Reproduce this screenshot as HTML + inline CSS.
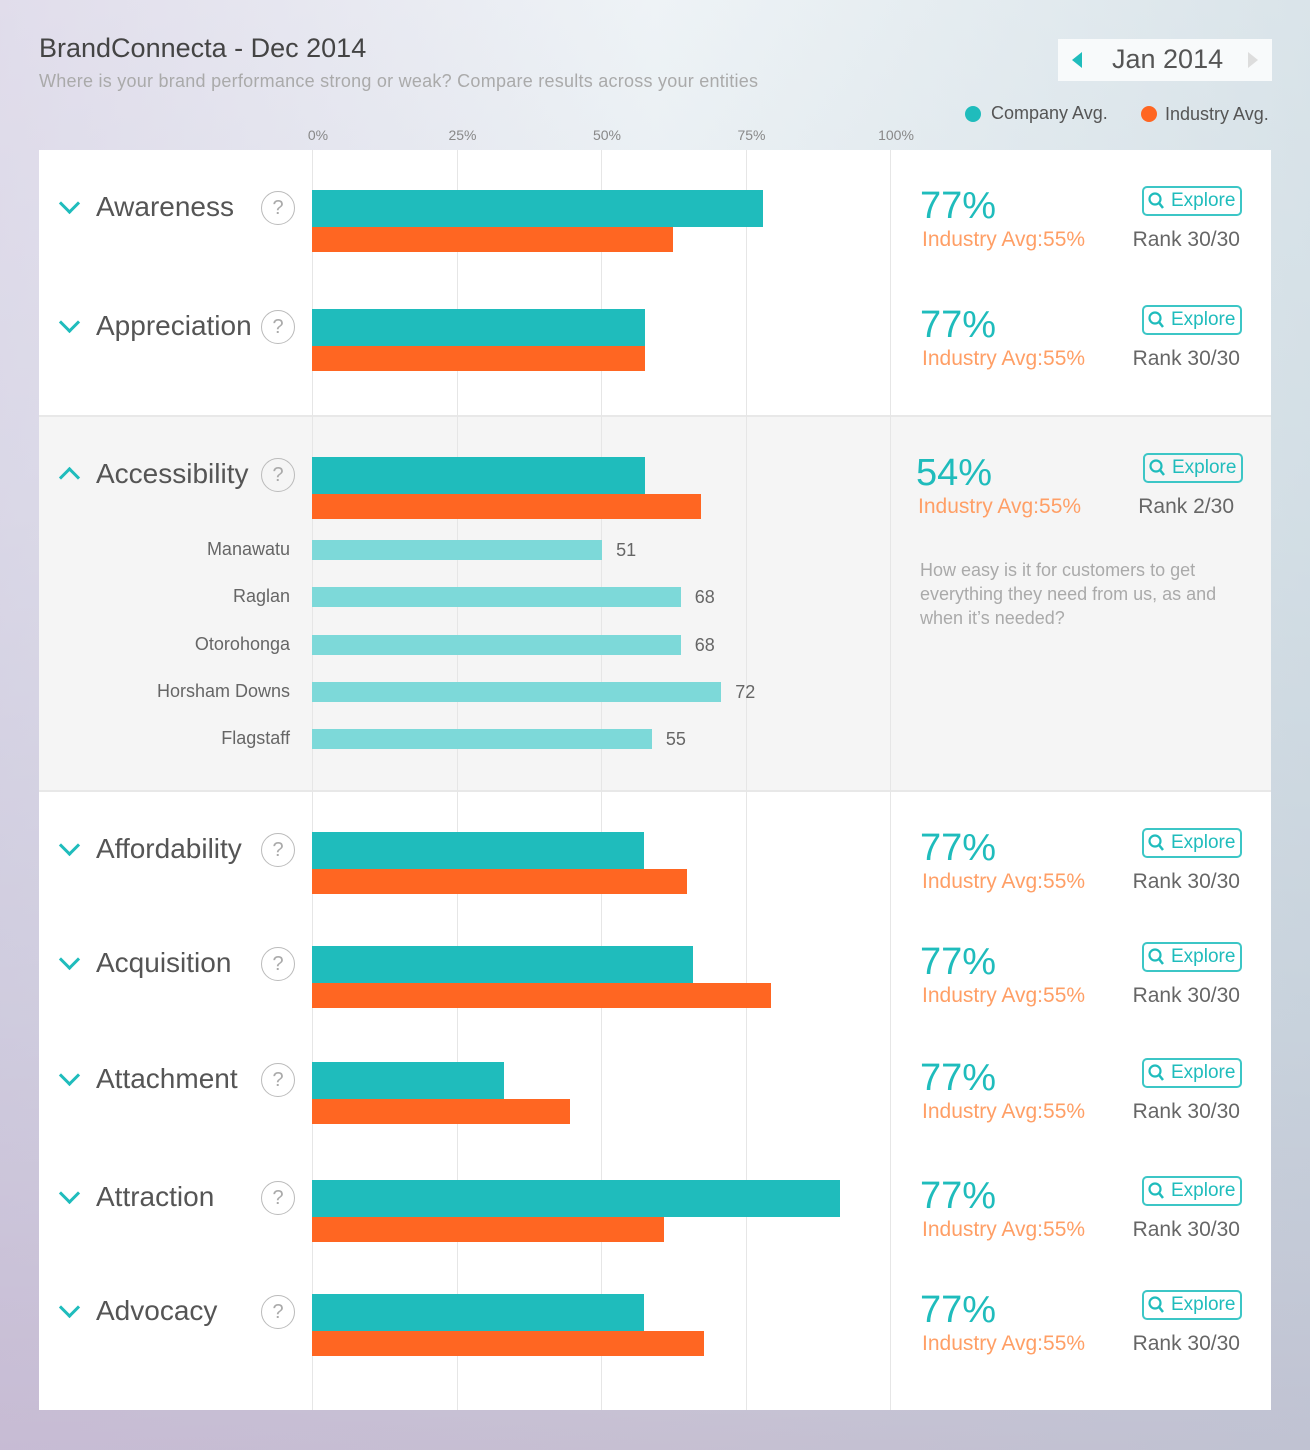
<!DOCTYPE html>
<html><head><meta charset="utf-8">
<style>
body{margin:0;width:1310px;height:1450px;overflow:hidden;font-family:"Liberation Sans",sans-serif;
background:linear-gradient(180deg,#eef3f6 0%,#e3eaef 35%,#d3d8e2 70%,#c6bfd2 100%);position:relative}
.bgr{position:absolute;inset:0;background:linear-gradient(90deg,rgba(200,180,215,.35),rgba(0,0,0,0) 50%,rgba(180,200,210,.35))}
.a{position:absolute;white-space:nowrap}
#card{position:absolute;left:39px;top:150px;width:1232px;height:1260px;background:#fff}
#gray{position:absolute;left:39px;top:415px;width:1232px;height:377px;background:#f5f5f5;border-top:2px solid #e8e8e8;border-bottom:2px solid #e8e8e8;box-sizing:border-box}
.grid{position:absolute;top:150px;height:1260px;width:1px;background:#e6e6e6}
.lbl{font-size:28px;color:#555}
.chev{position:absolute;width:12px;height:12px;border-right:3px solid #1fbcbc;border-bottom:3px solid #1fbcbc;transform:rotate(45deg)}
.chev.up{transform:rotate(-135deg)}
.q{position:absolute;width:32px;height:32px;border:1.5px solid #bbb;border-radius:50%;color:#aaa;font-size:20px;text-align:center;line-height:32px}
.bar{position:absolute}
.pct{font-size:38px;color:#1fbcbc}
.ind{font-size:21px;color:#ff9f66}
.rank{font-size:21px;color:#666}
.exp{position:absolute;width:96px;height:26px;border:2px solid #3cc6c6;border-radius:5px;color:#1fbcbc;font-size:19px;line-height:26px;box-sizing:content-box}
</style></head><body>
<div class="bgr"></div>
<div class="a" style="left:39px;top:33px;font-size:27px;color:#444">BrandConnecta - Dec 2014</div>
<div class="a" style="left:39px;top:71px;font-size:18px;color:#aaa;letter-spacing:0.25px">Where is your brand performance strong or weak? Compare results across your entities</div>
<div class="a" style="left:1058px;top:39px;width:214px;height:42px;background:#f8fafb">
 <div class="a" style="left:14px;top:13px;width:0;height:0;border-top:8px solid transparent;border-bottom:8px solid transparent;border-right:10px solid #1fbcbc"></div>
 <div class="a" style="left:54px;top:5px;font-size:27px;color:#555">Jan 2014</div>
 <div class="a" style="left:190px;top:13px;width:0;height:0;border-top:8px solid transparent;border-bottom:8px solid transparent;border-left:10px solid #ddd"></div>
</div>
<div class="a" style="left:965px;top:106px;width:16px;height:16px;border-radius:50%;background:#1fbcbc"></div>
<div class="a" style="left:991px;top:103px;font-size:18px;color:#555">Company Avg.</div>
<div class="a" style="left:1141px;top:106px;width:16px;height:16px;border-radius:50%;background:#ff6622"></div>
<div class="a" style="left:1165px;top:104px;font-size:18px;color:#555">Industry Avg.</div>
<div id="card"></div>
<div id="gray"></div>
<div id="layer"></div>
<script>
const ticks=[0,25,50,75,100];
const tickLabels=["0%","25%","50%","75%","100%"];
const categories=["Awareness","Appreciation","Accessibility","Affordability","Acquisition","Attachment","Attraction","Advocacy"];
const companyVals=[78,57.6,57.6,57.4,65.9,33.2,91.3,57.4];
const industryVals=[62.5,57.6,67.3,64.9,79.4,44.6,60.9,67.8];
const pctLabels=["77%","77%","54%","77%","77%","77%","77%","77%"];
const rankLabels=["Rank 30/30","Rank 30/30","Rank 2/30","Rank 30/30","Rank 30/30","Rank 30/30","Rank 30/30","Rank 30/30"];
const subCats=["Manawatu","Raglan","Otorohonga","Horsham Downs","Flagstaff"];
const subVals=[50.2,63.8,63.8,70.8,58.8];
const subLabels=["51","68","68","72","55"];
const rowTops=[190,309,457,832,946,1062,1180,1294];
const subTops=[540,587,635,682,729];
const X0=312,W=578;
const x=v=>X0+v/100*W;
const L=document.getElementById('layer');
function mk(cls,st,txt){const d=document.createElement('div');d.className='a '+cls;d.style.cssText=st;if(txt!=null)d.textContent=txt;L.appendChild(d);return d;}
ticks.forEach((t,i)=>{
 const g=mk('grid','left:'+Math.round(x(t))+'px');
 
 
 const l=mk('','left:'+(x(t)-30)+'px;width:72px;text-align:center;top:127px;font-size:14px;color:#888',tickLabels[i]);
 
 
});
categories.forEach((c,i)=>{
 const y=rowTops[i];
 const ch=mk('chev'+(i==2?' up':''),'left:62px;top:'+(i==2?y+13:y+6)+'px');
 
 
 const lb=mk('lbl','left:96px;top:'+(y+1)+'px',c);
 
 
 const q=mk('q','left:261px;top:'+(y+1)+'px','?');
 
 
 const b1=mk('bar','left:'+X0+'px;top:'+y+'px;height:37px;background:#1fbcbc;width:'+(x(companyVals[i])-X0)+'px');
 
 
 const b2=mk('bar','left:'+X0+'px;top:'+(y+37)+'px;height:25px;background:#ff6622;width:'+(x(industryVals[i])-X0)+'px');
 
 
 const px=i==2?916:920;
 const p=mk('pct','left:'+px+'px;top:'+(y-5)+'px',pctLabels[i]);
 
 
 const ia=mk('ind','left:'+(px+2)+'px;top:'+(y+38)+'px','Industry Avg:55%');
 
 
 const r=mk('rank','right:'+(i==2?76:70)+'px;top:'+(y+38)+'px',rankLabels[i]);
 
 
 const e=mk('exp','left:'+(i==2?1143:1142)+'px;top:'+(y-4)+'px','');
 e.innerHTML='<svg width="18" height="20" style="position:absolute;left:4px;top:3px"><circle cx="7" cy="8" r="5.5" fill="none" stroke="#1fbcbc" stroke-width="2.2"/><line x1="11" y1="12" x2="15" y2="17" stroke="#1fbcbc" stroke-width="2.5"/></svg><span style="position:absolute;left:27px">Explore</span>';
 
 
});
subCats.forEach((c,i)=>{
 const y=subTops[i];
 const l=mk('','right:'+(1310-290)+'px;top:'+(y-1)+'px;font-size:18px;color:#666',c);
 
 
 const b=mk('bar','left:'+X0+'px;top:'+y+'px;height:20px;background:#7dd9d9;width:'+(x(subVals[i])-X0)+'px');
 
 
 const v=mk('','left:'+(x(subVals[i])+14)+'px;top:'+y+'px;font-size:18px;color:#666',subLabels[i]);
 
 
});
const d=mk('','left:920px;top:558px;font-size:18px;line-height:24px;color:#aaa;white-space:normal;width:320px');
d.innerHTML='How easy is it for customers to get<br>everything they need from us, as and<br>when it’s needed?';


</script>
</body></html>
